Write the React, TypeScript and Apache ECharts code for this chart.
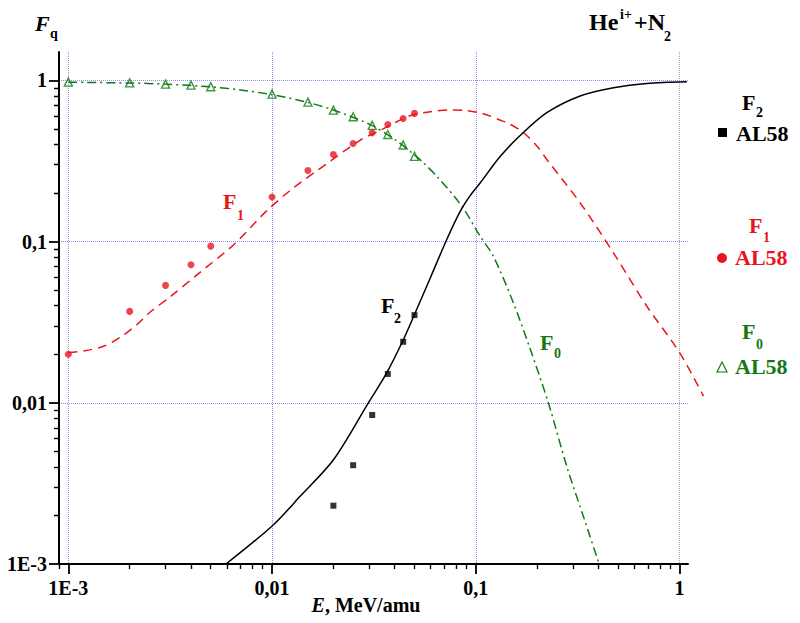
import { useEffect, useRef } from 'react';
import * as echarts from 'echarts';

// ---- axis ticks ----
const xTickValues = [0.001, 0.01, 0.1, 1];
const xTickLabels = ['1E-3', '0,01', '0,1', '1'];
const yTickValues = [0.001, 0.01, 0.1, 1];
const yTickLabels = ['1E-3', '0,01', '0,1', '1'];
const xRange = [0.0009, 1.1];
const yRange = [0.001, 1.5];
const xMinorValues = [0.0009, 0.002, 0.003, 0.004, 0.005, 0.006, 0.007, 0.008, 0.009,
  0.02, 0.03, 0.04, 0.05, 0.06, 0.07, 0.08, 0.09,
  0.2, 0.3, 0.4, 0.5, 0.6, 0.7, 0.8, 0.9];
const yMinorValues = [0.002, 0.003, 0.004, 0.005, 0.006, 0.007, 0.008, 0.009,
  0.02, 0.03, 0.04, 0.05, 0.06, 0.07, 0.08, 0.09,
  0.2, 0.3, 0.4, 0.5, 0.6, 0.7, 0.8, 0.9];

// ---- calculated curves [E (MeV/amu), F] ----
const f0Curve = [
  [0.001, 0.975], [0.002, 0.963], [0.003, 0.948], [0.005, 0.912], [0.007, 0.872],
  [0.01, 0.815], [0.015, 0.73], [0.02, 0.655], [0.03, 0.535], [0.04, 0.43],
  [0.05, 0.345], [0.0553, 0.308], [0.0644, 0.254], [0.0854, 0.166], [0.105, 0.108],
  [0.122, 0.081], [0.153, 0.0416], [0.185, 0.0215], [0.227, 0.01], [0.28, 0.004],
  [0.336, 0.002], [0.403, 0.001],
];
const f1Curve = [
  [0.001, 0.0205], [0.0012, 0.021], [0.0015, 0.0225], [0.0018, 0.0255], [0.0022, 0.031],
  [0.0025, 0.0362], [0.0032, 0.046], [0.0044, 0.064], [0.0065, 0.096], [0.0094, 0.155],
  [0.0127, 0.215], [0.0186, 0.305], [0.027, 0.425], [0.034, 0.49], [0.044, 0.58],
  [0.05, 0.615], [0.06, 0.64], [0.075, 0.655], [0.09, 0.65], [0.105, 0.628],
  [0.118, 0.6], [0.13, 0.57], [0.147, 0.535], [0.171, 0.475], [0.2, 0.39],
  [0.223, 0.323], [0.325, 0.174], [0.474, 0.085], [0.691, 0.0397], [1.0, 0.0205],
  [1.31, 0.011],
];
const f2Curve = [
  [0.00594, 0.001], [0.0101, 0.00174], [0.0137, 0.00262], [0.02, 0.00443], [0.0297, 0.01],
  [0.0363, 0.0151], [0.0436, 0.0239], [0.0498, 0.0349], [0.0597, 0.0593], [0.072, 0.103],
  [0.0838, 0.154], [0.0938, 0.193], [0.105, 0.231], [0.1316, 0.337], [0.165, 0.455],
  [0.223, 0.63], [0.325, 0.8], [0.474, 0.9], [0.691, 0.958], [1.087, 0.981],
];

// ---- AL58 experimental points ----
const f0Points = [
  [0.001, 0.975], [0.002, 0.965], [0.003, 0.948], [0.004, 0.935], [0.005, 0.914],
  [0.01, 0.822], [0.015, 0.733], [0.02, 0.654], [0.025, 0.595], [0.031, 0.526],
  [0.037, 0.462], [0.044, 0.397], [0.05, 0.338],
];
const f1Points = [
  [0.001, 0.02], [0.002, 0.0369], [0.003, 0.0535], [0.004, 0.0719], [0.005, 0.0937],
  [0.01, 0.189], [0.015, 0.276], [0.02, 0.347], [0.025, 0.406], [0.031, 0.473],
  [0.037, 0.533], [0.044, 0.58], [0.05, 0.624],
];
const f2Points = [
  [0.02, 0.0023], [0.025, 0.0041], [0.031, 0.0084], [0.037, 0.0151], [0.044, 0.0239],
  [0.05, 0.035],
];

const RED = '#e8161c';
const GREEN = '#127a12';
const BLACK = '#000000';
const FONT = '"Liberation Serif", "Times New Roman", serif';

const lg = (v: number) => Math.log10(v);
const toLog = (arr: number[][]) => arr.map(([e, f]) => [lg(e), lg(f)]);
const labelFor = (vals: number[], labels: string[]) => (v: number) => {
  const i = vals.findIndex((t) => Math.abs(lg(t) - v) < 1e-6);
  return i >= 0 ? labels[i] : '';
};

const txt = (x: number, y: number, text: string, size: number, color: string, italic = false, align = 'left') => ({
  type: 'text',
  x,
  y,
  silent: true,
  style: {
    text,
    fill: color,
    font: `${italic ? 'italic ' : ''}bold ${size}px ${FONT}`,
    align,
    verticalAlign: 'middle',
  },
});

const labelStyle = { color: BLACK, fontFamily: FONT, fontWeight: 'bold', fontSize: 20 };

// plot frame (pixels)
const G_LEFT = 59;
const G_RIGHT_EDGE = 688;
const G_TOP = 52;
const G_BOTTOM_EDGE = 564;
const WIDE_RIGHT_EDGE = 730; // wider helper grid (same scale) so the F1 curve may run past the frame
// helper grid (same scale) that holds the tick marks just outside the frame
const T_LEFT = 40;
const T_RIGHT_EDGE = 700;
const T_TOP = 40;
const T_BOTTOM_EDGE = 580;
const MAJOR_LEN = 10;
const MINOR_LEN = 5;

const graphics = [
  // y-axis name
  txt(35, 23, 'F', 22, BLACK, true),
  txt(50, 33, 'q', 14, BLACK),
  // x-axis name
  {
    type: 'text', x: 366, y: 605, silent: true,
    style: {
      text: '{i|E}{n|, MeV/amu}',
      align: 'center', verticalAlign: 'middle', fill: BLACK,
      rich: {
        i: { fontFamily: FONT, fontWeight: 'bold', fontStyle: 'italic', fontSize: 20, fill: BLACK },
        n: { fontFamily: FONT, fontWeight: 'bold', fontSize: 20, fill: BLACK },
      },
    },
  },
  // title
  txt(589, 22, 'He', 24, BLACK),
  txt(620, 14, 'i+', 14, BLACK),
  txt(634, 22, '+N', 24, BLACK),
  txt(664, 36, '2', 14, BLACK),
  // in-plot labels
  txt(223, 201, 'F', 22, RED),
  txt(237, 215, '1', 14, RED),
  txt(381, 305, 'F', 22, BLACK),
  txt(394, 318, '2', 14, BLACK),
  txt(540, 342, 'F', 22, GREEN),
  txt(554, 353, '0', 14, GREEN),
  // right-side legend
  txt(742, 102, 'F', 22, BLACK),
  txt(756, 112, '2', 14, BLACK),
  { type: 'rect', silent: true, shape: { x: 718, y: 128, width: 9, height: 9 }, style: { fill: BLACK } },
  txt(736, 133, 'AL58', 22, BLACK),
  txt(749, 225, 'F', 22, RED),
  txt(763, 237, '1', 14, RED),
  { type: 'circle', silent: true, shape: { cx: 722, cy: 258, r: 5 }, style: { fill: RED } },
  txt(735, 257, 'AL58', 22, RED),
  txt(742, 331, 'F', 22, GREEN),
  txt(756, 344, '0', 14, GREEN),
  {
    type: 'polygon', silent: true,
    shape: { points: [[717, 372], [727, 372], [722, 362]] },
    style: { fill: 'none', stroke: GREEN, lineWidth: 1.2 },
  },
  txt(735, 366, 'AL58', 22, GREEN),
];

function buildOption() {
  const xMin = lg(xRange[0]);
  const xMax = lg(xRange[1]);
  const yMin = lg(yRange[0]);
  const yMax = lg(yRange[1]);
  const pxX = (G_RIGHT_EDGE - G_LEFT) / (xMax - xMin);
  const pxY = (G_BOTTOM_EDGE - G_TOP) / (yMax - yMin);
  const xMaxWide = xMin + (WIDE_RIGHT_EDGE - G_LEFT) / pxX;
  const tXMin = xMin - (G_LEFT - T_LEFT) / pxX;
  const tXMax = xMin + (T_RIGHT_EDGE - G_LEFT) / pxX;
  const tYMin = yMin - (T_BOTTOM_EDGE - G_BOTTOM_EDGE) / pxY;
  const tYMax = yMax + (G_TOP - T_TOP) / pxY;

  const xTick = (v: number, len: number) => ({ coords: [[lg(v), yMin], [lg(v), yMin - len / pxY]] });
  const yTick = (v: number, len: number) => ({ coords: [[xMin, lg(v)], [xMin - len / pxX, lg(v)]] });
  const majorTicks = [...xTickValues.map((v) => xTick(v, MAJOR_LEN)), ...yTickValues.map((v) => yTick(v, MAJOR_LEN))];
  const minorTicks = [...xMinorValues.map((v) => xTick(v, MINOR_LEN)), ...yMinorValues.map((v) => yTick(v, MINOR_LEN))];

  const hiddenAxis = (gridIndex: number, min: number, max: number) => ({
    type: 'value', gridIndex, min, max, show: false,
    axisLine: { show: false, onZero: false }, axisTick: { show: false }, axisLabel: { show: false }, splitLine: { show: false },
  });

  return {
    animation: false,
    backgroundColor: '#ffffff',
    grid: [
      { left: G_LEFT, right: 800 - G_RIGHT_EDGE, top: G_TOP, bottom: 623 - G_BOTTOM_EDGE },
      { left: G_LEFT, right: 800 - WIDE_RIGHT_EDGE, top: G_TOP, bottom: 623 - G_BOTTOM_EDGE },
      { left: T_LEFT, right: 800 - T_RIGHT_EDGE, top: T_TOP, bottom: 623 - T_BOTTOM_EDGE },
    ],
    xAxis: [
      {
        type: 'value', gridIndex: 0, min: xMin, max: xMax,
        axisLine: { show: true, onZero: false, lineStyle: { color: BLACK, width: 2 } },
        axisTick: { show: false, customValues: xTickValues.map(lg) },
        axisLabel: { ...labelStyle, margin: 14, formatter: labelFor(xTickValues, xTickLabels) },
        splitLine: { show: true, lineStyle: { color: ['#9090f0', '#9090f0', '#9090f0', '#a8a8a8'], type: 'dotted', width: 1 } },
      },
      hiddenAxis(1, xMin, xMaxWide),
      hiddenAxis(2, tXMin, tXMax),
    ],
    yAxis: [
      {
        type: 'value', gridIndex: 0, min: yMin, max: yMax,
        axisLine: { show: true, onZero: false, lineStyle: { color: BLACK, width: 2 } },
        axisTick: { show: false, customValues: yTickValues.map(lg) },
        axisLabel: { ...labelStyle, margin: 12, formatter: labelFor(yTickValues, yTickLabels) },
        splitLine: { show: true, lineStyle: { color: '#9090f0', type: 'dotted', width: 1 } },
      },
      hiddenAxis(1, yMin, yMax),
      hiddenAxis(2, tYMin, tYMax),
    ],
    series: [
      {
        name: 'major ticks', type: 'lines', coordinateSystem: 'cartesian2d', xAxisIndex: 2, yAxisIndex: 2,
        data: majorTicks, silent: true, z: 6,
        lineStyle: { color: BLACK, width: 1.8, opacity: 1, curveness: 0 },
      },
      {
        name: 'minor ticks', type: 'lines', coordinateSystem: 'cartesian2d', xAxisIndex: 2, yAxisIndex: 2,
        data: minorTicks, silent: true, z: 6,
        lineStyle: { color: BLACK, width: 1.4, opacity: 1, curveness: 0 },
      },
      {
        name: 'F0', type: 'line', xAxisIndex: 0, yAxisIndex: 0, data: toLog(f0Curve), smooth: 0.3, symbol: 'none',
        lineStyle: { color: GREEN, width: 1.5, type: [9, 4, 2, 4] }, z: 3,
      },
      {
        name: 'F1', type: 'line', xAxisIndex: 1, yAxisIndex: 1, data: toLog(f1Curve), smooth: 0.3, symbol: 'none',
        lineStyle: { color: RED, width: 1.5, type: [9, 6] }, z: 3,
      },
      {
        name: 'F2', type: 'line', xAxisIndex: 0, yAxisIndex: 0, data: toLog(f2Curve), smooth: 0.3, symbol: 'none',
        lineStyle: { color: BLACK, width: 1.5 }, z: 3,
      },
      {
        name: 'F0 AL58', type: 'scatter', xAxisIndex: 0, yAxisIndex: 0, data: toLog(f0Points), symbol: 'triangle', symbolSize: 8,
        itemStyle: { color: 'transparent', borderColor: GREEN, borderWidth: 1.4 }, z: 4,
      },
      {
        name: 'F1 AL58', type: 'scatter', xAxisIndex: 0, yAxisIndex: 0, data: toLog(f1Points), symbol: 'circle', symbolSize: 7,
        itemStyle: { color: RED }, z: 4,
      },
      {
        name: 'F2 AL58', type: 'scatter', xAxisIndex: 0, yAxisIndex: 0, data: toLog(f2Points), symbol: 'rect', symbolSize: 6,
        itemStyle: { color: BLACK }, z: 4,
      },
    ],
    graphic: graphics,
  };
}

export default function App() {
  const ref = useRef<HTMLDivElement>(null);
  useEffect(() => {
    document.body.style.margin = '0';
    if (!ref.current) return;
    const chart = echarts.init(ref.current, null, { renderer: 'svg' });
    chart.setOption(buildOption() as any);
    return () => chart.dispose();
  }, []);
  return <div ref={ref} style={{ position: 'absolute', left: 0, top: 0, width: 800, height: 623 }} />;
}
